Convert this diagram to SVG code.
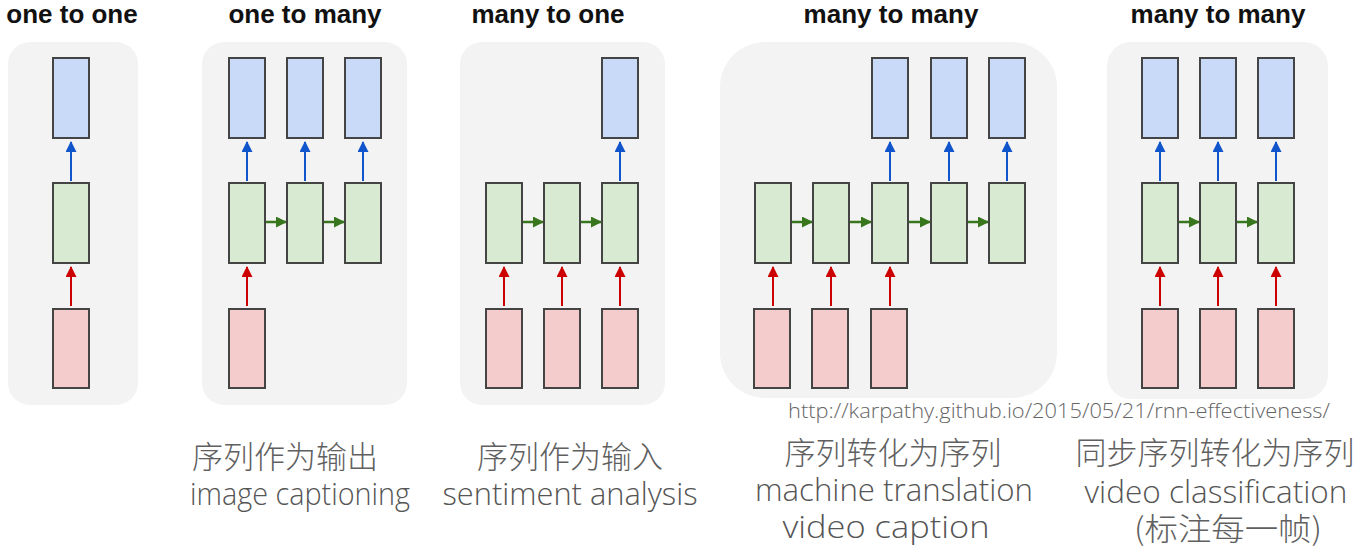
<svg xmlns="http://www.w3.org/2000/svg" width="1365" height="554" viewBox="0 0 1365 554">
<defs>
<style>
.panel{fill:#f3f3f3;}
.box{stroke:#444;stroke-width:2;}
.out{fill:#c9daf8;}
.hid{fill:#d9ead3;}
.in{fill:#f4cccc;}
.ab{stroke:#1155cc;stroke-width:2;fill:none;marker-end:url(#mb);}
.ar{stroke:#cc0000;stroke-width:2;fill:none;marker-end:url(#mr);}
.ag{stroke:#38761d;stroke-width:2.5;fill:none;marker-end:url(#mg);}
.title{font-family:"Liberation Sans",Arial,sans-serif;font-weight:bold;font-size:26px;fill:#111;text-anchor:middle;}
.cn{font-family:"Noto Sans CJK SC","Noto Sans",sans-serif;font-weight:300;font-size:31px;fill:#606060;text-anchor:middle;}
.en{font-family:"Open Sans","Noto Sans",sans-serif;font-weight:300;font-size:31px;fill:#555;text-anchor:middle;}
.url{font-family:"Open Sans","Noto Sans",sans-serif;font-weight:300;font-size:20px;fill:#666;}
</style>
<marker id="mb" markerUnits="userSpaceOnUse" markerWidth="11" markerHeight="12" refX="10" refY="5.5" orient="auto"><path d="M0,0 L11,5.5 L0,11 Z" fill="#1155cc"/></marker>
<marker id="mr" markerUnits="userSpaceOnUse" markerWidth="11" markerHeight="12" refX="10" refY="5.5" orient="auto"><path d="M0,0 L11,5.5 L0,11 Z" fill="#cc0000"/></marker>
<marker id="mg" markerUnits="userSpaceOnUse" markerWidth="11" markerHeight="12" refX="10" refY="5.5" orient="auto"><path d="M0,0 L11,5.5 L0,11 Z" fill="#38761d"/></marker>
</defs>
<rect width="1365" height="554" fill="#ffffff"/>

<g id="panels">
<rect class="panel" x="8" y="42" width="130" height="363" rx="22"/>
<rect class="panel" x="202" y="42" width="205" height="363" rx="22"/>
<rect class="panel" x="460" y="42" width="205" height="363" rx="22"/>
<rect class="panel" x="720" y="42" width="337" height="356" rx="45"/>
<rect class="panel" x="1107" y="42" width="221" height="357" rx="24"/>
</g>

<g id="titles">
<text class="title" x="72" y="23">one to one</text>
<text class="title" x="305" y="23">one to many</text>
<text class="title" x="548" y="23">many to one</text>
<text class="title" x="891" y="23">many to many</text>
<text class="title" x="1218" y="23">many to many</text>
</g>

<g id="connectors">
<path class="ab" d="M71,181 V142"/>
<path class="ar" d="M71,306 V267"/>

<path class="ab" d="M247,181 V142"/>
<path class="ab" d="M305,181 V142"/>
<path class="ab" d="M363,181 V142"/>
<path class="ar" d="M247,306 V267"/>
<path class="ag" d="M266,222 H286"/>
<path class="ag" d="M324,222 H344"/>

<path class="ab" d="M620,181 V142"/>
<path class="ar" d="M504,306 V267"/>
<path class="ar" d="M562,306 V267"/>
<path class="ar" d="M620,306 V267"/>
<path class="ag" d="M523,222 H543"/>
<path class="ag" d="M581,222 H601"/>

<path class="ab" d="M890,181 V142"/>
<path class="ab" d="M949,181 V142"/>
<path class="ab" d="M1007,181 V142"/>
<path class="ar" d="M773,306 V267"/>
<path class="ar" d="M831,306 V267"/>
<path class="ar" d="M890,306 V267"/>
<path class="ag" d="M792,222 H812"/>
<path class="ag" d="M850,222 H871"/>
<path class="ag" d="M909,222 H930"/>
<path class="ag" d="M968,222 H988"/>

<path class="ab" d="M1160,181 V142"/>
<path class="ab" d="M1218,181 V142"/>
<path class="ab" d="M1276,181 V142"/>
<path class="ar" d="M1160,306 V267"/>
<path class="ar" d="M1218,306 V267"/>
<path class="ar" d="M1276,306 V267"/>
<path class="ag" d="M1179,222 H1199"/>
<path class="ag" d="M1237,222 H1257"/>
</g>

<g id="one-to-one">
<rect class="box out" x="53" y="58" width="36" height="80"/>
<rect class="box hid" x="53" y="183" width="36" height="80"/>
<rect class="box in" x="53" y="309" width="36" height="79"/>
</g>

<g id="one-to-many">
<rect class="box out" x="229" y="58" width="36" height="80"/>
<rect class="box out" x="287" y="58" width="36" height="80"/>
<rect class="box out" x="345" y="58" width="36" height="80"/>
<rect class="box hid" x="229" y="183" width="36" height="80"/>
<rect class="box hid" x="287" y="183" width="36" height="80"/>
<rect class="box hid" x="345" y="183" width="36" height="80"/>
<rect class="box in" x="229" y="309" width="36" height="79"/>
</g>

<g id="many-to-one">
<rect class="box out" x="602" y="58" width="36" height="80"/>
<rect class="box hid" x="486" y="183" width="36" height="80"/>
<rect class="box hid" x="544" y="183" width="36" height="80"/>
<rect class="box hid" x="602" y="183" width="36" height="80"/>
<rect class="box in" x="486" y="309" width="36" height="79"/>
<rect class="box in" x="544" y="309" width="36" height="79"/>
<rect class="box in" x="602" y="309" width="36" height="79"/>
</g>

<g id="many-to-many-1">
<rect class="box out" x="872" y="58" width="36" height="80"/>
<rect class="box out" x="931" y="58" width="36" height="80"/>
<rect class="box out" x="989" y="58" width="36" height="80"/>
<rect class="box hid" x="755" y="183" width="36" height="80"/>
<rect class="box hid" x="813" y="183" width="36" height="80"/>
<rect class="box hid" x="872" y="183" width="36" height="80"/>
<rect class="box hid" x="931" y="183" width="36" height="80"/>
<rect class="box hid" x="989" y="183" width="36" height="80"/>
<rect class="box in" x="754" y="309" width="36" height="79"/>
<rect class="box in" x="812" y="309" width="36" height="79"/>
<rect class="box in" x="871" y="309" width="36" height="79"/>
</g>

<g id="many-to-many-2">
<rect class="box out" x="1142" y="58" width="36" height="80"/>
<rect class="box out" x="1200" y="58" width="36" height="80"/>
<rect class="box out" x="1258" y="58" width="36" height="80"/>
<rect class="box hid" x="1142" y="183" width="36" height="80"/>
<rect class="box hid" x="1200" y="183" width="36" height="80"/>
<rect class="box hid" x="1258" y="183" width="36" height="80"/>
<rect class="box in" x="1142" y="309" width="36" height="79"/>
<rect class="box in" x="1200" y="309" width="36" height="79"/>
<rect class="box in" x="1258" y="309" width="36" height="79"/>
</g>

<g id="labels">
<text class="url" x="788" y="418" textLength="542" lengthAdjust="spacingAndGlyphs">http://karpathy.github.io/2015/05/21/rnn-effectiveness/</text>
<text class="cn" x="285" y="468">序列作为输出</text>
<text class="en" x="300" y="505" textLength="220" lengthAdjust="spacingAndGlyphs">image captioning</text>
<text class="cn" x="570" y="468">序列作为输入</text>
<text class="en" x="570" y="505" textLength="255" lengthAdjust="spacingAndGlyphs">sentiment analysis</text>
<text class="cn" x="893" y="464">序列转化为序列</text>
<text class="en" x="894" y="501" textLength="278" lengthAdjust="spacingAndGlyphs">machine translation</text>
<text class="en" x="886" y="538" textLength="207" lengthAdjust="spacingAndGlyphs">video caption</text>
<text class="cn" x="1215" y="464">同步序列转化为序列</text>
<text class="en" x="1216" y="503" textLength="263" lengthAdjust="spacingAndGlyphs">video classification</text>
<text class="cn" x="1228" y="540" textLength="188" lengthAdjust="spacingAndGlyphs">(标注每一帧)</text>
</g>
</svg>
